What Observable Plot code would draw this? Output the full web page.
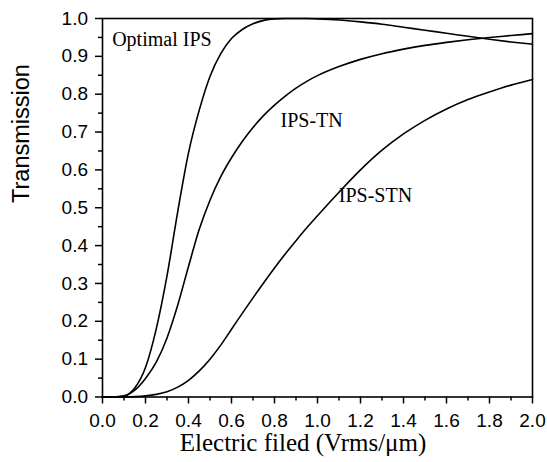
<!DOCTYPE html>
<html>
<head>
<meta charset="utf-8">
<script src="https://cdn.jsdelivr.net/npm/d3@7"></script>
<script src="https://cdn.jsdelivr.net/npm/@observablehq/plot@0.6"></script>
<style>
  html, body { margin: 0; padding: 0; background: #fff; }
  svg { display: block; }
</style>
</head>
<body>
<div id="chart"></div>
<script>
// Applied electric field (Vrms/μm), shared sampling grid for all three modes
const field = [0, 0.05, 0.1, 0.15, 0.2, 0.25, 0.3, 0.35, 0.4, 0.45, 0.5, 0.55, 0.6, 0.65, 0.7, 0.75, 0.8, 0.85, 0.9, 0.95, 1.0,
               1.1, 1.2, 1.3, 1.4, 1.5, 1.6, 1.7, 1.8, 1.9, 2.0];

// Normalised transmission of each cell mode
const optimalIPS = [0, 0, 0.003, 0.024, 0.078, 0.18, 0.32, 0.49, 0.645, 0.758, 0.847, 0.907, 0.947, 0.971, 0.986, 0.995, 0.999, 1.0, 1.0, 1.0, 0.999,
                    0.996, 0.991, 0.985, 0.977, 0.969, 0.961, 0.953, 0.945, 0.938, 0.932];
const ipsTN = [0, 0, 0.002, 0.018, 0.049, 0.092, 0.156, 0.243, 0.345, 0.443, 0.52, 0.582, 0.632, 0.675, 0.712, 0.744, 0.771, 0.795, 0.816, 0.834, 0.849,
               0.873, 0.892, 0.907, 0.919, 0.929, 0.937, 0.944, 0.950, 0.955, 0.960];
const ipsSTN = [0, 0, 0, 0.001, 0.003, 0.007, 0.014, 0.026, 0.044, 0.069, 0.100, 0.137, 0.179, 0.221, 0.262, 0.302, 0.341, 0.378, 0.413, 0.447, 0.479,
                0.541, 0.600, 0.652, 0.695, 0.731, 0.761, 0.786, 0.806, 0.824, 0.839];

const seriesNames = ["Optimal IPS", "IPS-TN", "IPS-STN"];
const seriesValues = [optimalIPS, ipsTN, ipsSTN];

// In-plot curve labels, anchored in data coordinates (left end of baseline)
const labelNames = ["Optimal IPS", "IPS-TN", "IPS-STN"];
const labelX = [0.045, 0.828, 1.099];
const labelY = [0.927, 0.713, 0.515];

// Axis ticks
const xMajor = [0, 0.2, 0.4, 0.6, 0.8, 1.0, 1.2, 1.4, 1.6, 1.8, 2.0];
const xMinor = [0.1, 0.3, 0.5, 0.7, 0.9, 1.1, 1.3, 1.5, 1.7, 1.9];
const yMajor = [0, 0.1, 0.2, 0.3, 0.4, 0.5, 0.6, 0.7, 0.8, 0.9, 1.0];
const yMinor = [0.05, 0.15, 0.25, 0.35, 0.45, 0.55, 0.65, 0.75, 0.85, 0.95];

const xTitle = "Electric filed (Vrms/μm)";
const yTitle = "Transmission";

const rows = seriesNames.flatMap((name, s) =>
  field.map((x, i) => ({series: name, x, y: seriesValues[s][i]}))
);
const labels = labelNames.map((text, i) => ({text, x: labelX[i], y: labelY[i]}));

const sans = "'Liberation Sans', Arial, sans-serif";
const serif = "'Liberation Serif', 'Times New Roman', serif";
const fmt = d3.format(".1f");

const chart = Plot.plot({
  width: 547,
  height: 462,
  marginLeft: 102,
  marginRight: 15,
  marginTop: 18,
  marginBottom: 65.5,
  style: {background: "#fff", color: "#000"},
  x: {domain: [0, 2]},
  y: {domain: [0, 1]},
  marks: [
    Plot.axisX(xMajor, {tickSize: 7, tickPadding: 9, tickFormat: fmt, fontSize: 19, fontFamily: sans, label: null, strokeWidth: 1.5}),
    Plot.axisX(xMinor, {tickSize: 4, fill: "none", label: null, strokeWidth: 1.5}),
    Plot.axisY(yMajor, {tickSize: 7, tickPadding: 7.5, tickFormat: fmt, fontSize: 19, fontFamily: sans, label: null, strokeWidth: 1.5}),
    Plot.axisY(yMinor, {tickSize: 4, fill: "none", label: null, strokeWidth: 1.5}),
    Plot.line(rows, {x: "x", y: "y", z: "series", stroke: "#000", strokeWidth: 1.6, curve: "monotone-x"}),
    Plot.frame({stroke: "#000", strokeWidth: 1.6}),
    Plot.text(labels, {x: "x", y: "y", text: "text", textAnchor: "start", lineAnchor: "bottom",
                       fontFamily: serif, fontSize: 20, fill: "#000"}),
    Plot.text([xTitle], {frameAnchor: "bottom", dx: -14.5, dy: 53.5, lineAnchor: "bottom",
                         fontFamily: serif, fontSize: 25, fill: "#000"}),
    Plot.text([yTitle], {frameAnchor: "left", dx: -74, dy: -4.75, rotate: -90, lineAnchor: "bottom",
                         fontFamily: sans, fontSize: 23.5, fill: "#000"})
  ]
});

document.getElementById("chart").appendChild(chart);
</script>
</body>
</html>
